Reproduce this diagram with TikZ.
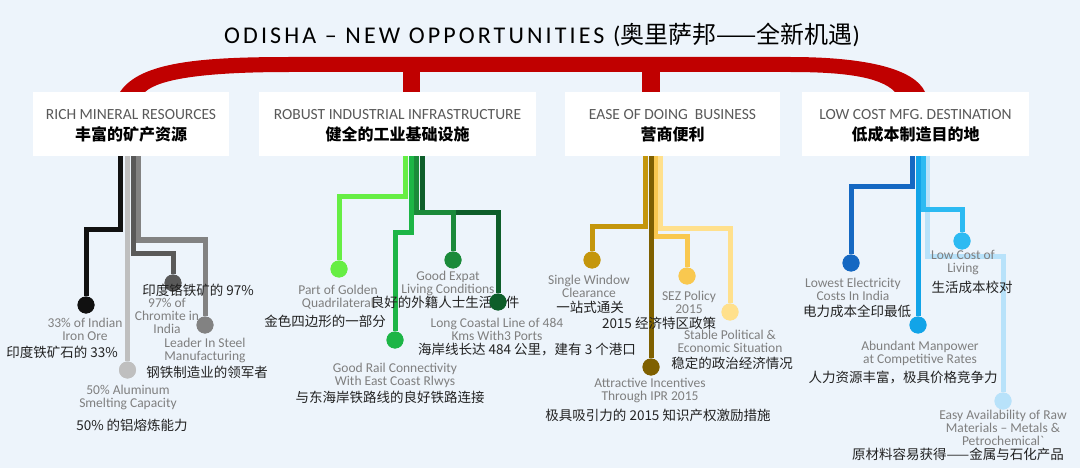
\documentclass[tikz,border=0pt]{standalone}
\usepackage{fontspec}
\usepackage{xcolor}
\setmainfont{Carlito}
\newfontfamily\cjk{Noto Sans CJK SC}
\newfontfamily\titlefont[LetterSpace=13]{Carlito}
\usetikzlibrary{calc}

\definecolor{bg}{HTML}{EDF4FB}
\definecolor{arcred}{HTML}{C00000}
\definecolor{hdgrey}{HTML}{595959}
\definecolor{lblgrey}{HTML}{7F7F7F}
\definecolor{zhtext}{HTML}{222222}
\definecolor{ironblack}{HTML}{111111}
\definecolor{alusilver}{HTML}{BFBFBF}
\definecolor{chromegrey}{HTML}{595959}
\definecolor{steelgrey}{HTML}{828282}
\definecolor{quadgreen}{HTML}{66EE44}
\definecolor{railgreen}{HTML}{1DB546}
\definecolor{expatgreen}{HTML}{1B8A3A}
\definecolor{coastgreen}{HTML}{0E5E2A}
\definecolor{windowgold}{HTML}{C4960C}
\definecolor{iprbrown}{HTML}{7F6000}
\definecolor{sezgold}{HTML}{F9C84F}
\definecolor{stablegold}{HTML}{FFE08C}
\definecolor{powerblue}{HTML}{1568C2}
\definecolor{manblue}{HTML}{12A4E8}
\definecolor{livingblue}{HTML}{2CBAF2}
\definecolor{rawblue}{HTML}{B8E2FA}

\begin{document}
\begin{tikzpicture}[x=1pt,y=-1pt,
    ln/.style={line width=5pt},
    dot/.style={circle,inner sep=0pt,minimum size=17pt},
    en/.style={font=\fontsize{13.5}{13}\selectfont,text=lblgrey,align=center,inner sep=0pt},
    zh/.style={font=\cjk\fontsize{13.5}{15}\selectfont,text=zhtext,inner sep=0pt},
    hbox/.style={fill=white,minimum width=#1,minimum height=64pt},
    hden/.style={font=\fontsize{15.5}{18}\selectfont,text=hdgrey,inner sep=0pt},
    hdzh/.style={font=\cjk\bfseries\fontsize{16}{18}\selectfont,inner sep=0pt}]
    % Background
    \fill[bg] (0,0) rectangle (1080,468);
    \useasboundingbox (0,0) rectangle (1080,468);
    % Title
    \node (title) at (542,35) {\fontsize{24}{26}\selectfont\titlefont ODISHA – NEW OPPORTUNITIES ({\cjk 奥里萨邦——全新机遇})};
    % Red bracket
    \fill[arcred] (120,92) .. controls (140,62) and (200,57) .. (290,57) -- (790,57)
        .. controls (870,57) and (915,70) .. (925,92) -- (895,92)
        .. controls (880,76) and (840,72) .. (790,72) -- (290,72)
        .. controls (210,72) and (160,78) .. (145,92) -- cycle;
    \fill[arcred] (403,70) rectangle (420,92);
    \fill[arcred] (642,70) rectangle (660,92);
    % Headings
    \node[hbox=196pt] (mineral) at (131,124) {};
    \node[hden] at (131,115) {RICH MINERAL RESOURCES};
    \node[hdzh] at (131,134) {丰富的矿产资源};
    \node[hbox=277pt] (infra) at (397.5,124) {};
    \node[hden] at (397.5,115) {ROBUST INDUSTRIAL INFRASTRUCTURE};
    \node[hdzh] at (397.5,134) {健全的工业基础设施};
    \node[hbox=215pt] (business) at (672.5,124) {};
    \node[hden] at (672.5,115) {EASE OF DOING\ \ BUSINESS};
    \node[hdzh] at (672.5,134) {营商便利};
    \node[hbox=227pt] (lowcost) at (915.5,124) {};
    \node[hden] at (915.5,115) {LOW COST MFG. DESTINATION};
    \node[hdzh] at (915.5,134) {低成本制造目的地};

    % Rich mineral resources
    \node[dot,fill=ironblack] (iron) at (86,305) {};
    \node[dot,fill=alusilver] (alu) at (127.5,370) {};
    \node[dot,fill=chromegrey] (chrome) at (173,283) {};
    \node[dot,fill=steelgrey] (steel) at (205,325) {};
    \draw[ln,ironblack] (mineral.south -| 120.5,0) -- (120.5,230) -| (iron);
    \draw[ln,alusilver] (mineral.south -| alu) -- (alu);
    \draw[ln,chromegrey] (mineral.south -| 133,0) -- (133,253) -| (chrome);
    \draw[ln,steelgrey] (mineral.south -| 138,0) -- (138,240) -| (steel);
    \node[dot,fill=ironblack] at (iron) {};
    \node[dot,fill=alusilver] at (alu) {};
    \node[dot,fill=chromegrey] at (chrome) {};
    \node[dot,fill=steelgrey] at (steel) {};
    \node[en] (ironen) at (85,329.5) {33\% of Indian\\Iron Ore};
    \node[zh] (ironzh) at (62,352) {印度铁矿石的 33\%};
    \node[en] (chromeen) at (167,315.5) {97\% of\\Chromite in\\India};
    \node[zh] (chromezh) at (198,290) {印度铬铁矿的 97\%};
    \node[en] (steelen) at (205,350.5) {Leader In Steel\\Manufacturing};
    \node[zh] (steelzh) at (207,372) {钢铁制造业的领军者};
    \node[en] (aluen) at (128,397.5) {50\% Aluminum\\Smelting Capacity};
    \node[zh] (aluzh) at (132,425) {50\% 的铝熔炼能力};

    % Robust industrial infrastructure
    \node[dot,fill=quadgreen] (quad) at (339,269) {};
    \node[dot,fill=railgreen] (rail) at (395,340) {};
    \node[dot,fill=expatgreen] (expat) at (453,260) {};
    \node[dot,fill=coastgreen] (coast) at (498,302) {};
    \draw[ln,quadgreen] (infra.south -| 405,0) -- (405,197) -| (quad);
    \draw[ln,railgreen] (infra.south -| 411.5,0) -- (411.5,233) -| (rail);
    \draw[ln,coastgreen] (infra.south -| 422,0) -- (422,213) -| (coast);
    \draw[ln,expatgreen] (infra.south -| 416.5,0) -- (416.5,213) -| (expat);
    \node[dot,fill=quadgreen] at (quad) {};
    \node[dot,fill=railgreen] at (rail) {};
    \node[dot,fill=expatgreen] at (expat) {};
    \node[en] (quaden) at (338,297) {Part of Golden\\Quadrilateral};
    \node[zh] (quadzh) at (325,321) {金色四边形的一部分};
    \node[en] (expaten) at (448,283.5) {Good Expat\\Living Conditions};
    \node[zh] (expatzh) at (445,302) {良好的外籍人士生活条件};
    \node[dot,fill=coastgreen] at (coast) {};
    \node[en] (coasten) at (497,329) {Long Coastal Line of 484\\Kms With3 Ports};
    \node[zh] (coastzh) at (527,350) {海岸线长达 484 公里，建有 3 个港口};
    \node[en] (railen) at (395,375) {Good Rail Connectivity\\With East Coast Rlwys};
    \node[zh] (railzh) at (390,397) {与东海岸铁路线的良好铁路连接};

    % Ease of doing business
    \node[dot,fill=windowgold] (window) at (592,260) {};
    \node[dot,fill=iprbrown] (ipr) at (651,367) {};
    \node[dot,fill=sezgold] (sez) at (687,276) {};
    \node[dot,fill=stablegold] (stable) at (730,312) {};
    \draw[ln,windowgold] (business.south -| 645,0) -- (645,227) -| (window);
    \draw[ln,stablegold] (business.south -| 660,0) -- (660,229) -| (stable);
    \draw[ln,sezgold] (business.south -| 655,0) -- (655,237) -| (sez);
    \draw[ln,iprbrown] (business.south -| ipr) -- (ipr);
    \node[dot,fill=windowgold] at (window) {};
    \node[dot,fill=iprbrown] at (ipr) {};
    \node[dot,fill=sezgold] at (sez) {};
    \node[dot,fill=stablegold] at (stable) {};
    \node[en] (windowen) at (589,286) {Single Window\\Clearance};
    \node[zh] (windowzh) at (590,307) {一站式通关};
    \node[en] (sezen) at (689,302) {SEZ Policy\\2015};
    \node[zh] (sezzh) at (659,323) {2015 经济特区政策};
    \node[en] (stableen) at (730,341) {Stable Political \&\\Economic Situation};
    \node[zh] (stablezh) at (732,363) {稳定的政治经济情况};
    \node[en] (ipren) at (650,390) {Attractive Incentives\\Through IPR 2015};
    \node[zh] (iprzh) at (658,415) {极具吸引力的 2015 知识产权激励措施};

    % Low cost mfg. destination
    \node[dot,fill=powerblue] (power) at (851,263) {};
    \node[dot,fill=manblue] (man) at (918,325) {};
    \node[dot,fill=livingblue] (living) at (962,241) {};
    \node[dot,fill=rawblue] (raw) at (1003,401) {};
    \draw[ln,powerblue] (lowcost.south -| 912,0) -- (912,187) -| (power);
    \draw[ln,rawblue] (lowcost.south -| 927.5,0) -- (927.5,256) -| (raw);
    \draw[ln,manblue] (lowcost.south -| man) -- (man);
    \draw[ln,livingblue] (lowcost.south -| 923,0) -- (923,210) -| (living);
    \node[dot,fill=powerblue] at (power) {};
    \node[dot,fill=manblue] at (man) {};
    \node[dot,fill=livingblue] at (living) {};
    \node[dot,fill=rawblue] at (raw) {};
    \node[en] (poweren) at (853,289) {Lowest Electricity\\Costs In India};
    \node[zh] (powerzh) at (857,311) {电力成本全印最低};
    \node[en] (livingen) at (963,263) {Low Cost of\\Living};
    \node[zh] (livingzh) at (972,287) {生活成本校对};
    \node[en] (manen) at (920,353) {Abundant Manpower\\at Competitive Rates};
    \node[zh] (manzh) at (903,377) {人力资源丰富，极具价格竞争力};
    \node[en] (rawen) at (1003,428) {Easy Availability of Raw\\Materials – Metals \&\\Petrochemical\textasciigrave};
    \node[zh] (rawzh) at (958,454) {原材料容易获得——金属与石化产品};
\end{tikzpicture}
\end{document}
